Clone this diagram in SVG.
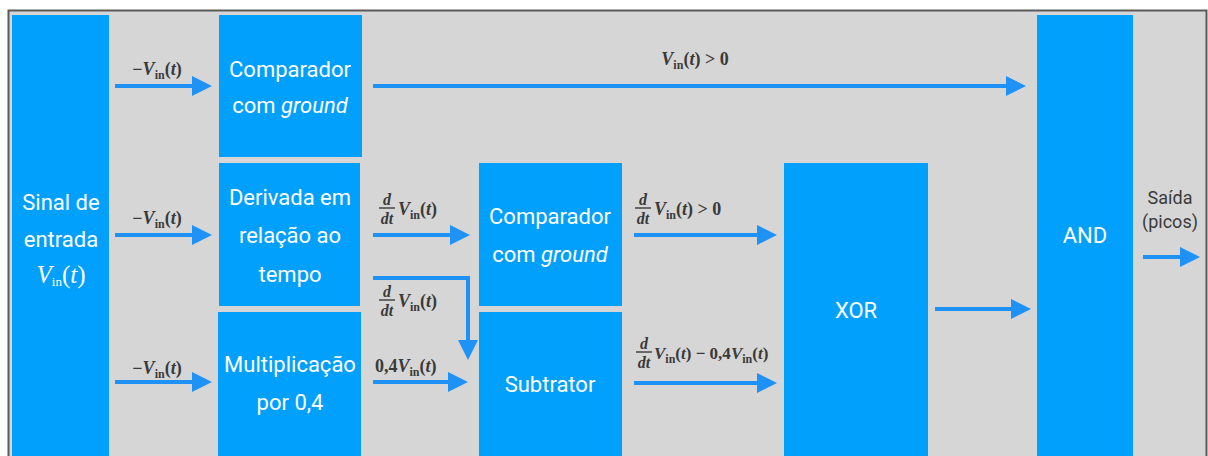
<svg xmlns="http://www.w3.org/2000/svg" width="1208" height="456" viewBox="0 0 1208 456">
  <style>
    .box { fill: #02a0fd; }
    .bt { font-family: Roboto, "Liberation Sans", sans-serif; font-size: 22px; fill: #ffffff; text-anchor: middle; }
    .it { font-style: italic; }
    .m { font-family: "Liberation Serif", serif; font-size: 18px; font-weight: bold; fill: #3a3a3a; }
    .ms { font-size: 17px; }
    .f { font-size: 16px; }
    .mi { font-style: italic; }
    .sub { font-size: 12px; font-style: normal; }
    .frac { stroke: #3a3a3a; stroke-width: 1.4; }
    .conn { stroke: #1e92f7; stroke-width: 4; fill: none; }
    .lbl { font-family: Roboto, "Liberation Sans", sans-serif; font-size: 18px; fill: #3a3a3a; text-anchor: middle; }
  </style>
  <defs>
    <marker id="ah" markerUnits="userSpaceOnUse" markerWidth="20" markerHeight="20" refX="10" refY="10" orient="auto">
      <path d="M0,0 L20,10 L0,20 Z" fill="#1e92f7"/>
    </marker>
  </defs>

  <rect x="0" y="0" width="1208" height="456" fill="#ffffff"/>
  <rect x="8.5" y="10.5" width="1198" height="460" fill="#d6d6d6" stroke="#5a5a5a" stroke-width="2"/>

  <g id="sinal">
    <rect class="box" x="12" y="15" width="97" height="441"/>
    <text class="bt" x="61" y="210">Sinal de</text>
    <text class="bt" x="61" y="247">entrada</text>
    <text x="61" y="283" text-anchor="middle" font-family="Liberation Serif, serif" fill="#ffffff" font-size="25"><tspan font-style="italic">V</tspan><tspan font-size="13" dy="3">in</tspan><tspan dy="-3">(</tspan><tspan font-style="italic">t</tspan>)</text>
  </g>

  <g id="comparador1">
    <rect class="box" x="219" y="15" width="143" height="142"/>
    <text class="bt" x="290" y="77">Comparador</text>
    <text class="bt" x="290" y="113">com <tspan class="it">ground</tspan></text>
  </g>

  <g id="derivada">
    <rect class="box" x="219" y="163" width="141" height="143"/>
    <text class="bt" x="290" y="205">Derivada em</text>
    <text class="bt" x="290" y="243">relação ao</text>
    <text class="bt" x="290" y="282">tempo</text>
  </g>

  <g id="multiplicacao">
    <rect class="box" x="218" y="312" width="143" height="144"/>
    <text class="bt" x="290" y="372">Multiplicação</text>
    <text class="bt" x="290" y="410">por 0,4</text>
  </g>

  <g id="comparador2">
    <rect class="box" x="479" y="163" width="143" height="143"/>
    <text class="bt" x="550" y="224">Comparador</text>
    <text class="bt" x="550" y="262">com <tspan class="it">ground</tspan></text>
  </g>

  <g id="subtrator">
    <rect class="box" x="479" y="312" width="143" height="144"/>
    <text class="bt" x="550" y="392">Subtrator</text>
  </g>

  <g id="xor">
    <rect class="box" x="784" y="163" width="144" height="293"/>
    <text class="bt" x="856" y="318">XOR</text>
  </g>

  <g id="and">
    <rect class="box" x="1037" y="15" width="96" height="441"/>
    <text class="bt" x="1085" y="243">AND</text>
  </g>

  <g id="connectors">
    <line class="conn" x1="115" y1="86" x2="202" y2="86" marker-end="url(#ah)"/>
    <line class="conn" x1="115" y1="235" x2="202" y2="235" marker-end="url(#ah)"/>
    <line class="conn" x1="115" y1="382" x2="202" y2="382" marker-end="url(#ah)"/>
    <line class="conn" x1="373" y1="86" x2="1016" y2="86" marker-end="url(#ah)"/>
    <line class="conn" x1="373" y1="235" x2="460" y2="235" marker-end="url(#ah)"/>
    <polyline class="conn" points="373,278 468,278 468,350" marker-end="url(#ah)"/>
    <line class="conn" x1="373" y1="382" x2="458" y2="382" marker-end="url(#ah)"/>
    <line class="conn" x1="634" y1="235" x2="767" y2="235" marker-end="url(#ah)"/>
    <line class="conn" x1="634" y1="383" x2="767" y2="383" marker-end="url(#ah)"/>
    <line class="conn" x1="935" y1="309" x2="1021" y2="309" marker-end="url(#ah)"/>
    <line class="conn" x1="1143" y1="257" x2="1190" y2="257" marker-end="url(#ah)"/>
  </g>

  <g id="labels">
    <text class="m" x="157" y="75" text-anchor="middle">−<tspan class="mi">V</tspan><tspan class="sub" dy="4">in</tspan><tspan dy="-4">(</tspan><tspan class="mi">t</tspan>)</text>
    <text class="m" x="157" y="224" text-anchor="middle">−<tspan class="mi">V</tspan><tspan class="sub" dy="4">in</tspan><tspan dy="-4">(</tspan><tspan class="mi">t</tspan>)</text>
    <text class="m" x="157" y="374" text-anchor="middle">−<tspan class="mi">V</tspan><tspan class="sub" dy="4">in</tspan><tspan dy="-4">(</tspan><tspan class="mi">t</tspan>)</text>

    <text class="m" x="695" y="65" text-anchor="middle"><tspan class="mi">V</tspan><tspan class="sub" dy="4">in</tspan><tspan dy="-4">(</tspan><tspan class="mi">t</tspan>) &gt; 0</text>

    <!-- d/dt Vin(t) upper -->
    <text class="m mi f" x="387" y="205" text-anchor="middle">d</text>
    <line class="frac" x1="379" y1="208" x2="395" y2="208"/>
    <text class="m mi f" x="387" y="224" text-anchor="middle">dt</text>
    <text class="m" x="398" y="215"><tspan class="mi">V</tspan><tspan class="sub" dy="4">in</tspan><tspan dy="-4">(</tspan><tspan class="mi">t</tspan>)</text>

    <!-- d/dt Vin(t) lower -->
    <text class="m mi f" x="387" y="297" text-anchor="middle">d</text>
    <line class="frac" x1="379" y1="300" x2="395" y2="300"/>
    <text class="m mi f" x="387" y="316" text-anchor="middle">dt</text>
    <text class="m" x="398" y="307"><tspan class="mi">V</tspan><tspan class="sub" dy="4">in</tspan><tspan dy="-4">(</tspan><tspan class="mi">t</tspan>)</text>

    <text class="m" x="375" y="372">0,4<tspan class="mi">V</tspan><tspan class="sub" dy="4">in</tspan><tspan dy="-4">(</tspan><tspan class="mi">t</tspan>)</text>

    <!-- d/dt Vin(t) > 0 -->
    <text class="m mi f" x="643" y="205" text-anchor="middle">d</text>
    <line class="frac" x1="635" y1="208" x2="651" y2="208"/>
    <text class="m mi f" x="643" y="224" text-anchor="middle">dt</text>
    <text class="m" x="654" y="215"><tspan class="mi">V</tspan><tspan class="sub" dy="4">in</tspan><tspan dy="-4">(</tspan><tspan class="mi">t</tspan>) &gt; 0</text>

    <!-- d/dt Vin(t) - 0,4Vin(t) -->
    <text class="m mi f" x="644" y="349" text-anchor="middle">d</text>
    <line class="frac" x1="636" y1="352" x2="652" y2="352"/>
    <text class="m mi f" x="644" y="368" text-anchor="middle">dt</text>
    <text class="m ms" x="654" y="359"><tspan class="mi">V</tspan><tspan class="sub" dy="4">in</tspan><tspan dy="-4">(</tspan><tspan class="mi">t</tspan>) − 0,4<tspan class="mi">V</tspan><tspan class="sub" dy="4">in</tspan><tspan dy="-4">(</tspan><tspan class="mi">t</tspan>)</text>

    <text class="lbl" x="1170" y="204">Saída</text>
    <text class="lbl" x="1170" y="228">(picos)</text>
  </g>
</svg>
